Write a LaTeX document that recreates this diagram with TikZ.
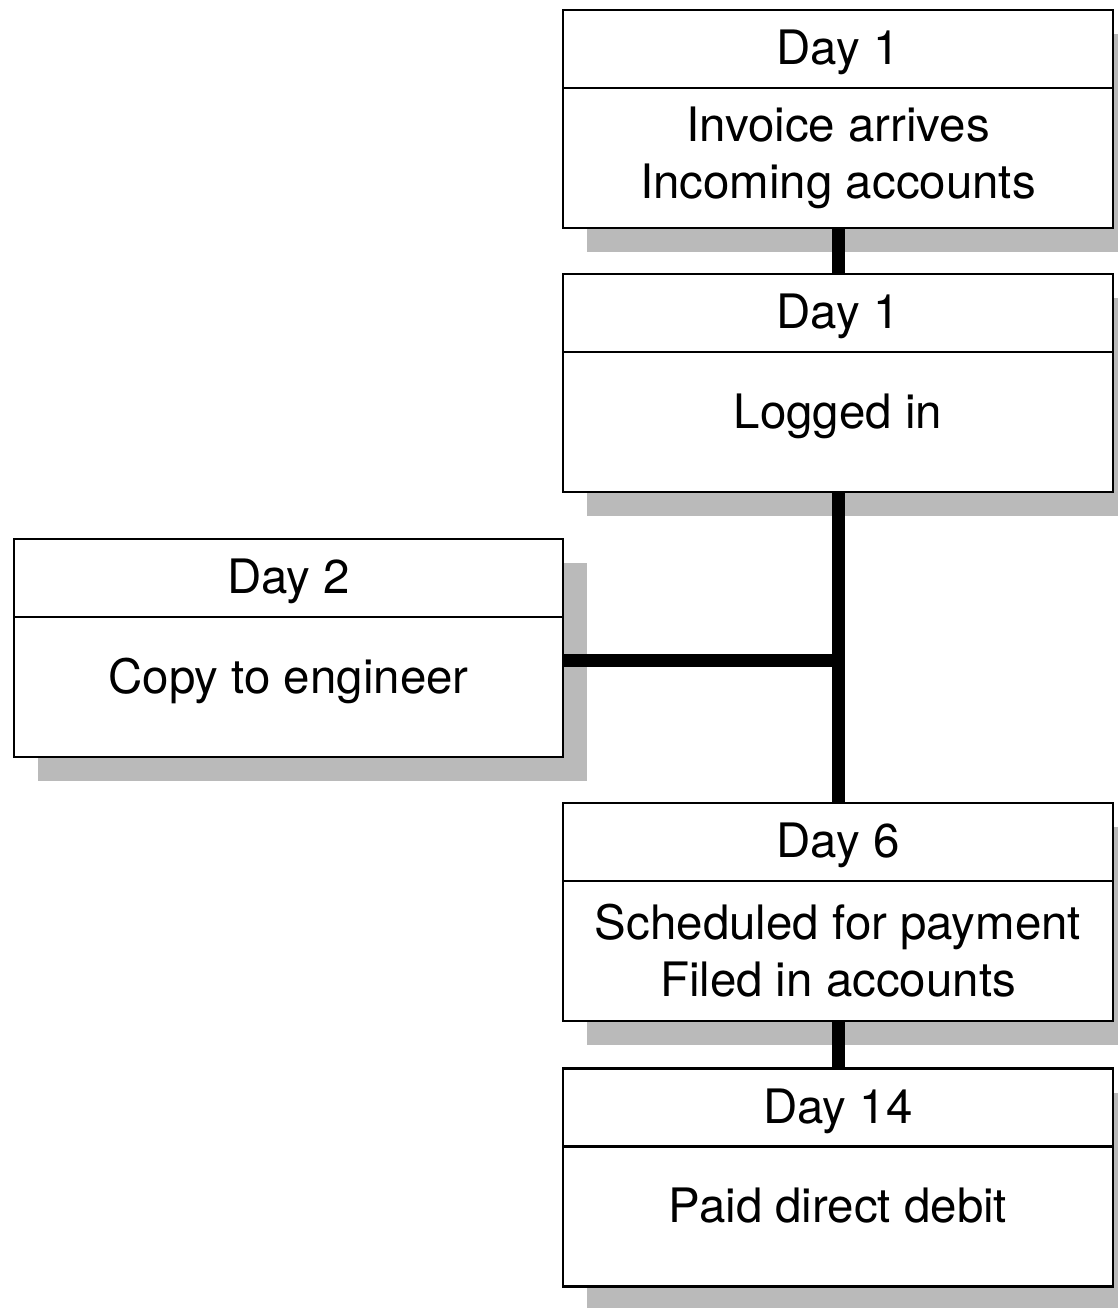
\documentclass[tikz,border=0pt]{standalone}
\usepackage{fontspec}
\setmainfont{TeX Gyre Heros}
\usepackage{tikz}
\usetikzlibrary{shapes,positioning,calc,shadows}

\tikzset{
  card/.style={draw, rectangle, line width=0.6pt, fill=white, outer sep=0pt,
    minimum width=5.5cm, align=center,
    font=\fontsize{13.5}{16.2}\selectfont,
    drop shadow={shadow xshift=0.24cm, shadow yshift=-0.24cm, opacity=1, fill=black!27}},
  dayhead/.style={card, minimum height=0.78cm, text height=0.42cm},
  daybody/.style={card, minimum height=1.40cm},
  oneline/.style={text depth=0.22cm}
}

\begin{document}
\begin{tikzpicture}[link/.style={line width=3.7pt}]
            \useasboundingbox (0,0) rectangle (11.18,-13.08);
            % right column
            \node[dayhead] (h1) at (8.38,-0.49) {Day 1};
            \node[daybody, below=0cm of h1] (b1) {Invoice arrives\\Incoming accounts};
            \node[dayhead] (h2) at (8.38,-3.13) {Day 1};
            \node[daybody, oneline, below=0cm of h2] (b2) {Logged in};
            \node[dayhead] (h6) at (8.38,-8.42) {Day 6};
            \node[daybody, below=0cm of h6] (b6) {Scheduled for payment\\Filed in accounts};
            \node[dayhead] (h14) at (8.38,-11.075) {Day 14};
            \node[daybody, oneline, below=0cm of h14] (b14) {Paid direct debit};
            % side branch
            \node[dayhead, minimum width=5.49cm] (hcopy) at (2.885,-5.78) {Day 2};
            \node[daybody, oneline, minimum width=5.49cm, below=0cm of hcopy] (bcopy) {Copy to engineer};
            \coordinate (tee) at (8.38,-6.60);

            \draw[link] (b1) -- (h2);
            \draw[link] (b2) -- (h6);
            \draw[link] (b6) -- (h14);
            \draw[link] (tee -| bcopy.east) -- (tee);
        \end{tikzpicture}
\end{document}
